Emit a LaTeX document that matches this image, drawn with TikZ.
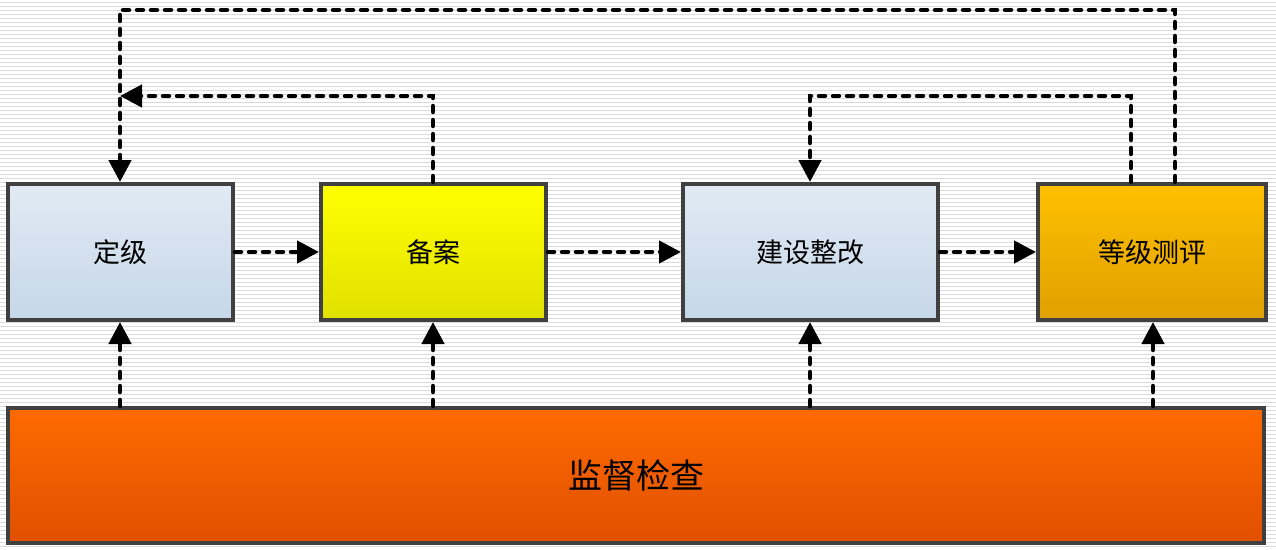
\documentclass[tikz,border=0pt]{standalone}
\usepackage{fontspec}
\newfontfamily\cjk{Noto Sans CJK SC}
\usetikzlibrary{arrows.meta}
\definecolor{lbt}{HTML}{E1EAF4}
\definecolor{lbb}{HTML}{C6D7E8}
\definecolor{ort}{HTML}{FF6A00}
\definecolor{orb}{HTML}{E05000}
\definecolor{gdt}{HTML}{FFC000}
\definecolor{gdb}{HTML}{E0A000}
\begin{document}
\begin{tikzpicture}[x=1pt,y=-1pt,
 box/.style={draw=black!75,line width=4pt,inner sep=0pt,font=\cjk\fontsize{27}{30}\selectfont},
 flow/.style={line width=4.5pt,dash pattern=on 6pt off 8pt,line cap=round,-{Triangle[length=22pt,width=22pt]}}]
\fill[white] (0,0) rectangle (1276,549);
\useasboundingbox (0,0) rectangle (1276,549);
\foreach \y in {2,6,...,549} \draw[black!14,line width=0.8pt] (0,\y) -- (1276,\y);
\node[box,minimum width=225pt,minimum height=136pt,top color=lbt,bottom color=lbb] (a) at (120.5,252) {定级};
\node[box,minimum width=225pt,minimum height=136pt,top color=yellow,bottom color=yellow!88!black] (b) at (433.5,252) {备案};
\node[box,minimum width=255pt,minimum height=136pt,top color=lbt,bottom color=lbb] (c) at (810.5,252) {建设整改};
\node[box,minimum width=228pt,minimum height=136pt,top color=gdt,bottom color=gdb] (d) at (1152,252) {等级测评};
\node[box,minimum width=1256pt,minimum height=135pt,font=\cjk\fontsize{34}{38}\selectfont,top color=ort,bottom color=orb] (e) at (636,475.5) {监督检查};
\draw[flow] (a.east) -- (b.west);
\draw[flow] (b.east) -- (c.west);
\draw[flow] (c.east) -- (d.west);
\foreach \n/\x in {a/120,b/433,c/810,d/1153} \draw[flow] (\x,406) -- (\x,322);
\coordinate (t1) at (1175,10); \coordinate (t2) at (120,10);
\draw[flow] (1175,182) -- (t1) -- (t2) -- (120,182);
\coordinate (u1) at (433,96); \coordinate (u2) at (120,96);
\draw[flow] (433,182) -- (u1) -- (u2);
\coordinate (v1) at (1131,96); \coordinate (v2) at (810,96);
\draw[flow] (1131,182) -- (v1) -- (v2) -- (810,182);
\end{tikzpicture}
\end{document}
